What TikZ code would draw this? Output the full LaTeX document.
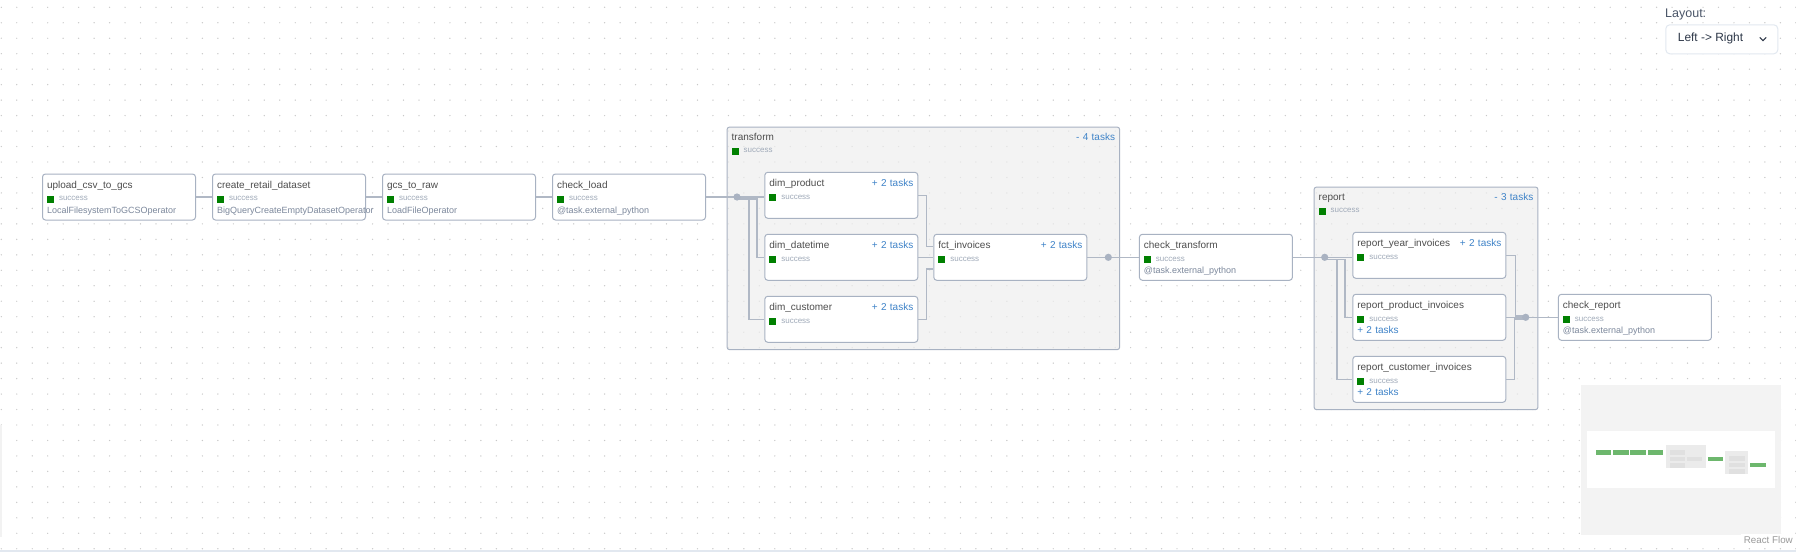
\documentclass[tikz,border=0pt]{standalone}
\usepackage{fontspec}
\setmainfont{Liberation Sans}
\usetikzlibrary{positioning}

\definecolor{okgreen}{HTML}{008000}
\definecolor{titletext}{HTML}{4D4D4D}
\definecolor{oktext}{HTML}{A0AAB9}
\definecolor{optext}{HTML}{7C889C}
\definecolor{moreblue}{HTML}{3F83C8}
\definecolor{boxline}{HTML}{A8B2C2}
\definecolor{edgeline}{HTML}{B0B8C5}
\definecolor{jointfill}{HTML}{A9B2C1}
\definecolor{groupfill}{HTML}{EEEEEE}
\definecolor{dotgrey}{HTML}{C8C8C8}
\definecolor{selectline}{HTML}{E2E8F0}
\definecolor{layouttext}{HTML}{4A5568}
\definecolor{seltext}{HTML}{2D3748}
\definecolor{mapbg}{HTML}{F3F3F3}
\definecolor{mapgroup}{HTML}{EBEBEB}
\definecolor{mapbar}{HTML}{E0E0E0}
\definecolor{mapgreen}{HTML}{6DB76D}
\definecolor{attrib}{HTML}{999999}

\newcommand{\taskok}{{\color{okgreen}\raisebox{-1.9pt}{\rule{7pt}{7pt}}}\hspace{5pt}{\fontsize{8}{9}\selectfont\color{oktext}success}}
\newcommand{\opname}[1]{{\fontsize{9}{10}\selectfont\color{optext}\mbox{#1}}}
\newcommand{\moretasks}[1]{{\color{moreblue}#1}}
\newcommand{\tasksright}[1]{\hspace{0pt plus 1filll}\moretasks{#1}}

\begin{document}
\begin{tikzpicture}[
  x=1pt, y=1pt,
  task/.style={rectangle, rounded corners=3pt, draw=boxline, line width=1pt, fill=white, text=titletext, align=left, text width=144pt, inner xsep=4.5pt, inner ysep=2.4pt, text depth=29.6pt, font=\fontsize{10}{12.8}\selectfont, execute at begin node={\rule{0pt}{11.6pt}}},
  group/.style={task, fill=groupfill, fill opacity=0.7, text opacity=1, rounded corners=2pt, inner ysep=1.3pt, text depth=208.1pt, anchor=north west},
  edge/.style={draw=edgeline, line width=1.6pt},
  joint/.style={fill=jointfill},
  mapgreenbar/.style={fill=mapgreen},
  mapgreybar/.style={fill=mapbar}
]
  \fill[white] (0,0) rectangle (1796,-555);
  \useasboundingbox (0,0) rectangle (1796,-555);
  \foreach \i in {0,...,116} {
    \foreach \j in {0,...,35} {
      \fill[dotgrey] (1.3+15.47*\i, -7.3-15.47*\j) circle (0.7);
    }
  }
  \draw[selectline, line width=1.5pt] (0,-551) -- (1796,-551);
  \draw[gray!10, line width=1.5pt] (0.8,-425) -- (0.8,-537);

  \node[group, text width=383.3pt] (transform) at (726.7,-126.7) {transform\tasksright{- 4 tasks}\\\taskok};
  \node[group, text width=214.6pt] (report) at (1313.7,-186.7) {report\tasksright{- 3 tasks}\\\taskok};

  \node[task] (upload) at (119,-197) {upload\_csv\_to\_gcs\\\taskok\\\opname{LocalFilesystemToGCSOperator}};
  \node[task, right=16pt of upload] (create) {create\_retail\_dataset\\\taskok\\\opname{BigQueryCreateEmptyDatasetOperator}};
  \node[task, right=16pt of create] (gcsraw) {gcs\_to\_raw\\\taskok\\\opname{LoadFileOperator}};
  \node[task, right=16pt of gcsraw] (checkload) {check\_load\\\taskok\\\opname{@task.external\_python}};

  \node[task] (dimprod) at (841.3,-195.3) {dim\_product\tasksright{+ 2 tasks}\\\taskok};
  \node[task, below=15pt of dimprod] (dimdate) {dim\_datetime\tasksright{+ 2 tasks}\\\taskok};
  \node[task, below=15pt of dimdate] (dimcust) {dim\_customer\tasksright{+ 2 tasks}\\\taskok};
  \node[task, right=15pt of dimdate] (fct) {fct\_invoices\tasksright{+ 2 tasks}\\\taskok};
  \node[task, right=51.6pt of fct] (checktrans) {check\_transform\\\taskok\\\opname{@task.external\_python}};

  \node[task] (repyear) at (1429.3,-255.3) {report\_year\_invoices\tasksright{+ 2 tasks}\\\taskok};
  \node[task, below=15pt of repyear] (repprod) {report\_product\_invoices\\\taskok\\\moretasks{+ 2 tasks}};
  \node[task, below=15pt of repprod] (repcust) {report\_customer\_invoices\\\taskok\\\moretasks{+ 2 tasks}};
  \node[task, right=51.6pt of repprod] (checkrep) {check\_report\\\taskok\\\opname{@task.external\_python}};

  \coordinate (jt1) at (737,-197);
  \coordinate (jt2) at (1108.3,-257.3);
  \coordinate (jt3) at (1324.7,-257.3);
  \coordinate (jt4) at (1525.7,-317.3);

  \draw[edge] (upload) -- (create);
  \draw[edge] (create) -- (gcsraw);
  \draw[edge] (gcsraw) -- (checkload);
  \draw[edge] (checkload) -- (jt1);
  \draw[edge] (jt1) -- (jt1 -| dimprod.west);
  \draw[edge] ([yshift=-2pt]jt1) -- ++(20,0) |- (dimdate.west);
  \draw[edge] ([yshift=-2pt]jt1) -- ++(12,0) |- (dimcust.west);
  \draw[edge] (dimprod.east) -- ++(8,0) |- ([yshift=11pt]fct.west);
  \draw[edge] (dimdate) -- (fct);
  \draw[edge] (dimcust.east) -- ++(8,0) |- ([yshift=-11.7pt]fct.west);
  \draw[edge] (fct) -- (jt2);
  \draw[edge] (jt2) -- (checktrans);
  \draw[edge] (checktrans) -- (jt3);
  \draw[edge] (jt3) -- (jt3 -| repyear.west);
  \draw[edge] ([yshift=-2pt]jt3) -- ++(20.3,0) |- (repprod.west);
  \draw[edge] ([yshift=-2pt]jt3) -- ++(12,0) |- (repcust.west);
  \draw[edge] (repyear.east) -- ++(9,0) |- ([yshift=1.5pt]jt4);
  \draw[edge] (repprod) -- (jt4);
  \draw[edge] (repcust.east) -- ++(8,0) |- ([yshift=-1.5pt]jt4);
  \draw[edge] (jt4) -- (checkrep);
  \foreach \j in {jt1,jt2,jt3,jt4}
    \fill[joint] (\j) circle (3.6);

  \node[anchor=west, inner sep=0, font=\fontsize{12.5}{14}\selectfont, text=layouttext] (layoutlbl) at (1665,-14) {Layout:};
  \node[anchor=north west, draw=selectline, line width=1pt, rounded corners=4pt, fill=white, minimum width=112pt, minimum height=29pt] (layoutsel) at (1665.3,-24.3) {};
  \node[anchor=west, inner sep=0, font=\fontsize{11.9}{14}\selectfont, text=seltext] (layoutval) at (1677.7,-38.5) {Left -> Right};
  \draw[seltext, line width=1.1pt, line cap=round] (1760,-37.6) -- (1763,-40.6) -- (1766,-37.6);

  \fill[mapbg] (1581,-385) rectangle (1780.7,-534.7);
  \fill[white] (1587.3,-431.3) rectangle (1775,-488.3);
  \foreach \x in {1595.7,1613,1630.3,1647.7}
    \fill[mapgreenbar] (\x,-450.3) rectangle ++(15.6,-4.7);
  \fill[mapgroup] (1665.7,-445.3) rectangle (1705.7,-468.3);
  \fill[mapgreybar] (1669.7,-450) rectangle ++(15.3,-4.7);
  \fill[mapgreybar] (1669.7,-456.7) rectangle ++(15.3,-4.5);
  \fill[mapgreybar] (1687,-456.7) rectangle ++(15.3,-4.5);
  \fill[mapgreybar] (1669.7,-463) rectangle ++(15.3,-4.5);
  \fill[mapgreenbar] (1707.7,-456.7) rectangle ++(15.6,-4.4);
  \fill[mapgroup] (1725.3,-451) rectangle (1748.3,-474.3);
  \foreach \y in {456,462.7,469}
    \fill[mapgreybar] (1729.3,-\y) rectangle ++(15.7,-4.6);
  \fill[mapgreenbar] (1750,-462.7) rectangle ++(16,-4.6);
  \node[anchor=east, fill=white, inner xsep=3pt, inner ysep=2pt, font=\fontsize{9.8}{11}\selectfont, text=attrib] (attribution) at (1796,-539.5) {React Flow};
\end{tikzpicture}
\end{document}
